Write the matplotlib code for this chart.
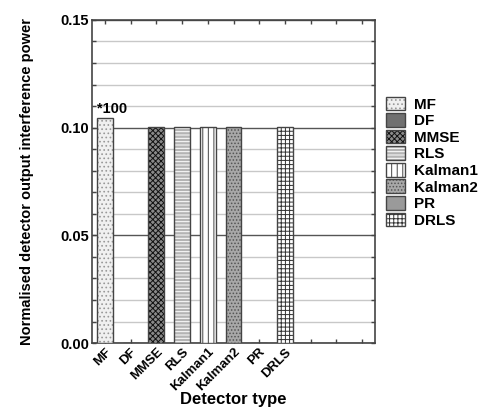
import matplotlib.pyplot as plt
from matplotlib.legend_handler import HandlerTuple
import numpy as np

detectors = ['MF', 'DF', 'MMSE', 'RLS', 'Kalman1', 'Kalman2', 'PR', 'DRLS']
power = [0.1045, 0.0, 0.1005, 0.1003, 0.1003, 0.1003, 0.0, 0.1003]
n_slots = 11

colors = ['#f0f0f0', '#707070', '#8a8a8a', '#b4b4b4', '#ffffff', '#a8a8a8', '#9a9a9a', '#ffffff']
hatches = ['....', '', 'xxxxxx', '-----', '|||', '.....', '', '++++']
hatch_cols = ['#999999', '#444444', '#111111', '#ffffff', '#444444', '#555555', '#444444', '#333333']

plt.rcParams['font.family'] = ['Liberation Sans', 'DejaVu Sans']
plt.rcParams['font.weight'] = 'bold'
plt.rcParams['hatch.linewidth'] = 0.7

fig = plt.figure(figsize=(4.88, 4.07), dpi=100)
ax = fig.add_axes([0.1885, 0.157, 0.58, 0.794])

x = np.arange(len(detectors))
handles = []
for i in range(len(detectors)):
    b1 = ax.bar(x[i], power[i], width=0.62, color=colors[i], hatch=hatches[i],
                edgecolor=hatch_cols[i], linewidth=0, zorder=3)
    b2 = ax.bar(x[i], power[i], width=0.62, fill=False,
                edgecolor='#444444', linewidth=1.0, zorder=4)
    handles.append((b1[0], b2[0]))

ax.text(x[0] - 0.3, power[0] + 0.001, '*100', fontsize=10.5, fontweight='bold',
        ha='left', va='bottom')

ax.set_xlim(-0.5, n_slots - 0.5)
ax.set_ylim(0, 0.15)
ax.set_xticks(np.arange(n_slots))
ax.set_xticklabels(detectors + [''] * (n_slots - len(detectors)),
                   rotation=45, ha='right', rotation_mode='anchor', fontsize=9.5)
ax.set_yticks([0, 0.05, 0.10, 0.15])
ax.set_yticklabels(['0.00', '0.05', '0.10', '0.15'], fontsize=10.5)
ax.set_yticks(np.arange(0, 0.151, 0.01), minor=True)
ax.tick_params(axis='both', which='both', direction='in', top=True, right=True,
               length=3, width=1, color='#444444')
ax.tick_params(axis='x', pad=2)
ax.tick_params(axis='y', pad=2)

ax.grid(axis='y', which='minor', color='#c8c8c8', linewidth=1.0, zorder=0)
ax.grid(axis='y', which='major', color='#555555', linewidth=1.0, zorder=1)
for s in ax.spines.values():
    s.set_linewidth(1.2)
    s.set_color('#444444')

ax.set_ylabel('Normalised detector output interference power', fontsize=10.5,
              fontweight='bold')
ax.yaxis.set_label_coords(-0.205, 0.5)
ax.set_xlabel('Detector type', fontsize=12, fontweight='bold')
ax.xaxis.set_label_coords(0.5, -0.152)

ax.legend(handles, detectors, handler_map={tuple: HandlerTuple(ndivide=1)},
          loc='center left', bbox_to_anchor=(1.04, 0.56), frameon=False,
          fontsize=11, handlelength=1.2, handleheight=1.0, labelspacing=0.1,
          handletextpad=0.6, borderaxespad=0, borderpad=0)

plt.savefig('out.png', dpi=100)
